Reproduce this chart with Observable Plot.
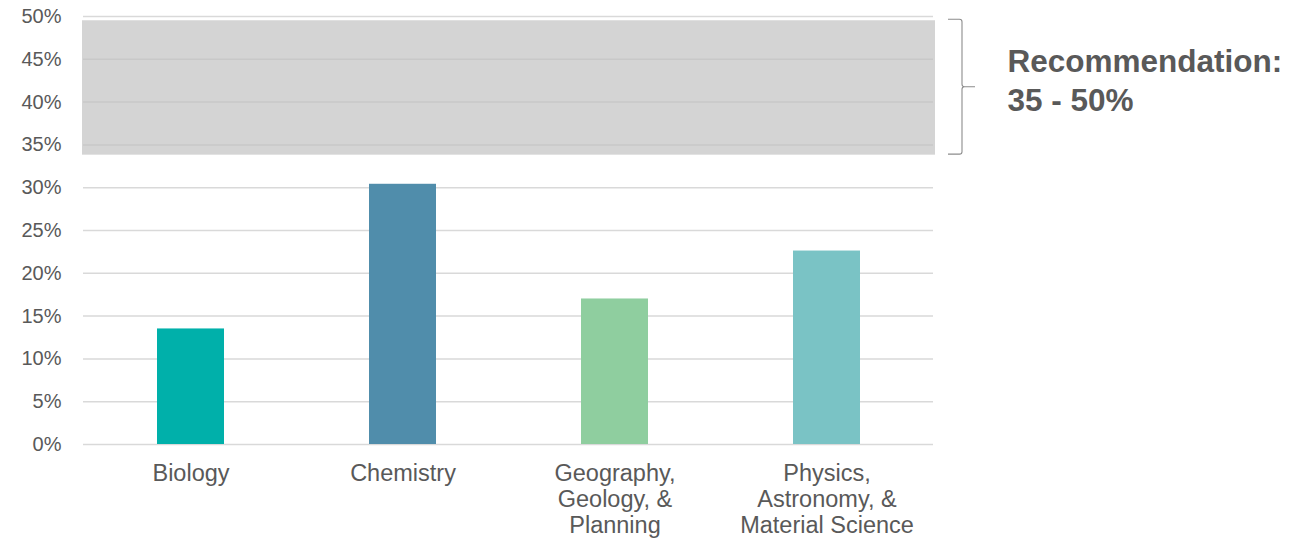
<!DOCTYPE html>
<html>
<head>
<meta charset="utf-8">
<script src="https://cdn.jsdelivr.net/npm/d3@7"></script>
<script src="https://cdn.jsdelivr.net/npm/@observablehq/plot@0.6"></script>
<style>
  html, body { margin: 0; padding: 0; background: #fff; }
  #chart { width: 1315px; height: 540px; }
</style>
</head>
<body>
<div id="chart"></div>
<script>
const categories = ["Biology", "Chemistry", "Geography, Geology, & Planning", "Physics, Astronomy, & Material Science"];
const categoryLabels = ["Biology", "Chemistry", "Geography,\nGeology, &\nPlanning", "Physics,\nAstronomy, &\nMaterial Science"];
const values = [13.5, 30.4, 17.0, 22.6];
const colors = ["#00B0AA", "#508DAB", "#8FCE9F", "#7AC3C5"];
const yTicks = [0, 5, 10, 15, 20, 25, 30, 35, 40, 45, 50];
const bandLow = [33.8];
const bandHigh = [49.5];
const noteLines = ["Recommendation:", "35 - 50%"];

const data = categories.map((c, i) => ({category: c, value: values[i]}));
const band = [{lo: bandLow[0], hi: bandHigh[0]}];
const labelOf = new Map(categories.map((c, i) => [c, categoryLabels[i]]));

const textColor = "#595959";
const font = "'Liberation Sans', Arial, sans-serif";

const chart = Plot.plot({
  width: 1315,
  height: 540,
  marginLeft: 83,
  marginRight: 382,
  marginTop: 16,
  marginBottom: 96,
  style: {fontFamily: font, color: textColor, background: "#fff", overflow: "visible"},
  x: {domain: categories, paddingInner: 0.684, paddingOuter: 0.342},
  y: {domain: [0, 50]},
  color: {domain: categories, range: colors},
  marks: [
    Plot.gridY(yTicks, {stroke: "#d9d9d9", strokeOpacity: 1, strokeWidth: 1.5}),
    Plot.rectY(band, {y1: "lo", y2: "hi", fill: "#bfbfbf", fillOpacity: 0.68, insetLeft: -1, insetRight: -2}),
    Plot.barY(data, {x: "category", y: "value", fill: "category"}),
    Plot.axisY(yTicks, {tickSize: 0, tickPadding: 22, fontSize: 20, tickFormat: d => d + "%", label: null}),
    Plot.axisX({tickSize: 0, tickPadding: 18, fontSize: 23.5, lineHeight: 1.1, tickFormat: d => labelOf.get(d), label: null}),
    Plot.text([noteLines.join("\n")], {
      frameAnchor: "right",
      y: [(bandLow[0] + bandHigh[0]) / 2],
      dx: 74, dy: -9,
      textAnchor: "start",
      lineAnchor: "middle",
      fontSize: 31.5,
      fontWeight: "bold",
      lineHeight: 1.25,
      fill: textColor
    })
  ]
});

document.getElementById("chart").appendChild(chart);

// curly bracket beside the recommended band, positioned through the plot's y scale
const ys = chart.scale("y");
const yTop = ys.apply(bandHigh[0]) - 1;
const yBot = ys.apply(bandLow[0]) - 0.5;
const yMid = (yTop + yBot) / 2;
const xr = 1315 - 382; // right edge of the frame
const x0 = xr + 15, x1 = xr + 29, x2 = xr + 42;
const r = 2.5;
const path = `M${x0},${yTop} L${x1 - r},${yTop} Q${x1},${yTop} ${x1},${yTop + r} L${x1},${yMid - r} Q${x1},${yMid} ${x1 + r},${yMid} L${x2},${yMid} M${x1 + r},${yMid} Q${x1},${yMid} ${x1},${yMid + r} L${x1},${yBot - r} Q${x1},${yBot} ${x1 - r},${yBot} L${x0},${yBot}`;
d3.select(chart).append("path")
  .attr("d", path)
  .attr("fill", "none")
  .attr("stroke", "#8c8c8c")
  .attr("stroke-width", 1.1);
</script>
</body>
</html>
